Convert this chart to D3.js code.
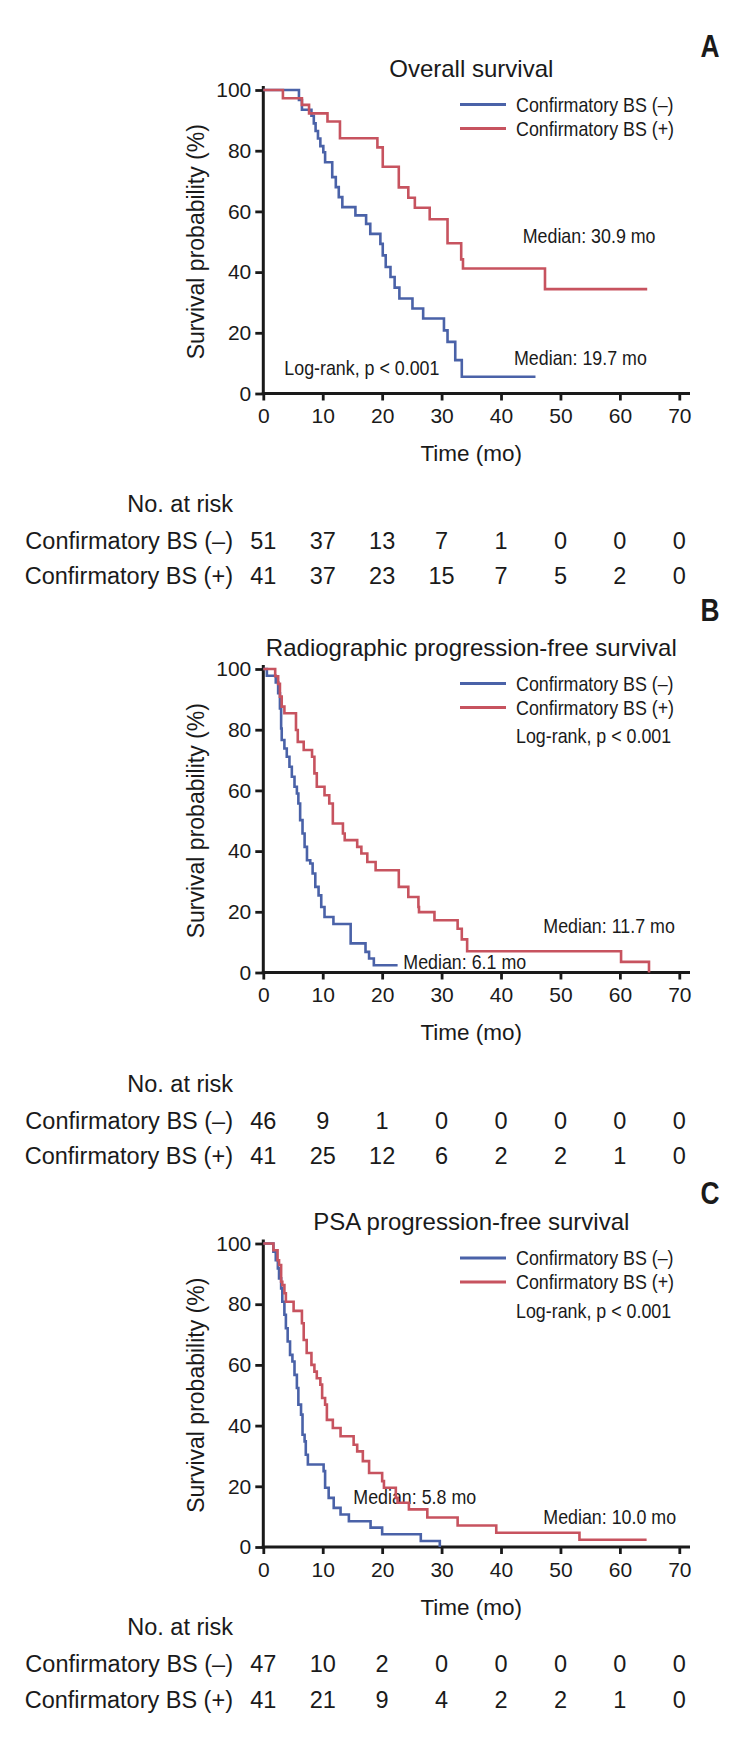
<!DOCTYPE html>
<html><head><meta charset="utf-8">
<script src="https://cdn.jsdelivr.net/npm/d3@7"></script>
<style>body{margin:0;background:#fff}</style>
</head><body>
<svg id="c" width="742" height="1740"></svg>
<script>
// ---------- data ----------
const xTicks = [0,10,20,30,40,50,60,70];
const yTicks = [0,20,40,60,80,100];
const panelLetters = ["A","B","C"];
const titles = ["Overall survival","Radiographic progression-free survival","PSA progression-free survival"];
const seriesNames = ["Confirmatory BS (–)","Confirmatory BS (+)"];
const logRankText = "Log-rank, p < 0.001";
const riskTimes = [0,10,20,30,40,50,60,70];

// Overall survival (time in months, survival %)
const osNeg = [[0,100],[6.0,96.7],[6.5,93.5],[8.1,91.5],[8.5,89.0],[8.8,86.5],[9.2,84.0],[9.6,81.5],[10.1,79.5],[10.4,76.2],[11.6,71.3],[12.2,68.0],[12.7,64.7],[13.3,61.4],[15.5,58.7],[17.3,55.9],[18.0,52.6],[19.7,49.3],[20.1,45.5],[20.6,41.7],[21.4,38.4],[22.1,34.9],[22.9,31.3],[25.1,28.0],[26.9,24.7],[30.4,20.8],[31.0,17.0],[32.3,11.0],[33.4,5.5],[45.8,5.5]];
const osPos = [[0,100],[3.3,97.3],[6.5,95.1],[7.7,92.3],[10.8,89.6],[12.9,84.1],[19.2,81.1],[20.1,74.7],[22.8,67.9],[24.4,64.5],[25.5,61.2],[28.0,57.4],[31.0,49.5],[33.3,44.2],[33.6,41.2],[47.4,34.4],[64.6,34.4]];
// Radiographic PFS
const rpfsNeg = [[0,100],[0.6,97.8],[2.1,95.6],[2.5,92.0],[2.8,87.0],[3.0,80.4],[3.1,76.6],[3.55,73.8],[3.95,71.1],[4.4,67.8],[4.8,64.5],[5.25,61.2],[5.65,59.0],[5.9,55.7],[6.2,50.2],[6.6,45.8],[6.95,41.4],[7.35,37.0],[7.9,35.9],[8.3,32.6],[8.75,28.2],[9.3,25.4],[9.75,21.6],[10.3,18.3],[11.8,16.0],[14.7,9.6],[17.2,6.8],[17.8,4.6],[18.6,2.4],[22.6,2.4]];
const rpfsPos = [[0,100],[2.0,97.6],[2.5,95.1],[2.8,90.9],[3.1,87.6],[3.55,85.4],[5.5,79.9],[5.8,76.0],[6.8,73.3],[8.2,71.1],[8.6,65.6],[9.0,61.2],[10.3,58.4],[11.1,55.7],[11.7,49.1],[13.4,45.8],[13.7,43.6],[15.8,41.4],[16.5,39.2],[17.5,36.4],[18.9,33.7],[22.8,28.2],[24.4,24.9],[26.1,21.6],[26.2,19.9],[28.8,17.2],[32.7,14.4],[33.4,10.9],[34.3,7.0],[60.2,3.5],[64.9,0]];
// PSA PFS
const psaNeg = [[0,100],[1.7,97.3],[2.1,94.5],[2.45,91.8],[2.65,88.5],[3.0,85.2],[3.2,80.8],[3.55,76.5],[3.8,72.1],[4.1,67.7],[4.5,63.3],[4.9,61.1],[5.25,56.7],[5.65,52.4],[5.9,46.9],[6.35,43.6],[6.6,37.0],[6.95,34.8],[7.15,30.4],[7.5,27.2],[10.15,25.0],[10.4,19.5],[11.0,16.2],[11.85,12.9],[13.0,10.7],[14.4,8.5],[18.05,6.4],[20.0,4.2],[26.5,2.0],[29.7,0]];
const psaPos = [[0,100],[1.7,97.8],[2.4,94.5],[2.65,92.9],[3.0,87.4],[3.2,86.3],[3.55,83.6],[3.8,80.8],[5.1,77.8],[6.5,73.7],[6.8,68.2],[7.3,63.9],[8.1,60.0],[8.6,57.8],[9.0,55.6],[9.6,53.5],[9.9,49.1],[10.4,46.9],[10.7,41.9],[11.7,39.2],[13.0,36.5],[15.2,33.7],[15.8,31.5],[16.75,28.3],[17.8,24.4],[20.0,21.7],[20.3,19.5],[22.3,16.2],[22.6,14.6],[24.5,12.4],[27.6,9.7],[32.7,7.1],[39.2,4.7],[53.2,2.4],[64.5,2.4]];

const osRiskNeg = [51,37,13,7,1,0,0,0];
const osRiskPos = [41,37,23,15,7,5,2,0];
const rpfsRiskNeg = [46,9,1,0,0,0,0,0];
const rpfsRiskPos = [41,25,12,6,2,2,1,0];
const psaRiskNeg = [47,10,2,0,0,0,0,0];
const psaRiskPos = [41,21,9,4,2,2,1,0];

const medianNeg = ["Median: 19.7 mo","Median: 6.1 mo","Median: 5.8 mo"];
const medianPos = ["Median: 30.9 mo","Median: 11.7 mo","Median: 10.0 mo"];

// ---------- layout ----------
const svg = d3.select("#c");
const colors = ["#4a62a8","#c7535f"];
const ink = "#1a1a1a";
const plotX0 = 263.3, plotX1 = 679.3, plotH = 303.5;
const panelTops = [90, 669, 1243.5];
const sans = "'Liberation Sans', Arial, sans-serif";
const condSize = 21, condScale = 0.85;

const panels = [
  {neg: osNeg, pos: osPos, rNeg: osRiskNeg, rPos: osRiskPos,
   medNeg:[514,275], medPos:[522.7,152.7], logRank:[284.3,285], letterY:-33, riskShift:30},
  {neg: rpfsNeg, pos: rpfsPos, rNeg: rpfsRiskNeg, rPos: rpfsRiskPos,
   medNeg:[403.3,300.3], medPos:[543.3,263.7], logRank:[516,73.5], letterY:-48, riskShift:31},
  {neg: psaNeg, pos: psaPos, rNeg: psaRiskNeg, rPos: psaRiskPos,
   medNeg:[353.3,260.7], medPos:[543.3,280], logRank:[516,74.4], letterY:-40, riskShift:0}
];

const x = d3.scaleLinear().domain([0,70]).range([plotX0, plotX1]);

function condText(g, px, py, txt) {
  return g.append("text").attr("transform",`translate(${px},${py}) scale(${condScale},1)`)
    .attr("font-family",sans).attr("font-size",condSize).attr("fill",ink).text(txt);
}

panels.forEach((p, i) => {
  const top = panelTops[i], bottom = top + plotH;
  const y = d3.scaleLinear().domain([0,100]).range([bottom, top]);
  const g = svg.append("g");

  // title
  g.append("text").attr("x",(plotX0+plotX1)/2).attr("y",top-13.5)
    .attr("text-anchor","middle").attr("font-family",sans).attr("font-size",24)
    .attr("fill",ink).text(titles[i]);
  // panel letter
  g.append("text").attr("transform",`translate(710,${top+p.letterY}) scale(0.85,1)`)
    .attr("text-anchor","middle").attr("font-family",sans).attr("font-weight","bold")
    .attr("font-size",31).attr("fill",ink).text(panelLetters[i]);

  // axes
  const ya = d3.axisLeft(y).tickValues(yTicks).tickSize(8).tickPadding(4).tickSizeOuter(0);
  const xa = d3.axisBottom(x).tickValues(xTicks).tickSize(7).tickPadding(8).tickSizeOuter(0);
  const yg = g.append("g").attr("transform",`translate(${plotX0},0)`).call(ya);
  const xg = g.append("g").attr("transform",`translate(0,${bottom})`).call(xa);
  [yg,xg].forEach(a => {
    a.select(".domain").remove();
    a.selectAll(".tick line").attr("stroke",ink).attr("stroke-width",2.8);
    a.selectAll(".tick text").attr("font-family",sans).attr("font-size",21).attr("fill",ink);
  });
  g.append("line").attr("x1",plotX0).attr("x2",plotX0).attr("y1",top-4).attr("y2",bottom+1.4)
    .attr("stroke",ink).attr("stroke-width",3);
  g.append("line").attr("x1",plotX0-1.5).attr("x2",690).attr("y1",bottom).attr("y2",bottom)
    .attr("stroke",ink).attr("stroke-width",3);

  // y label
  g.append("text").attr("transform",`translate(204,${(top+bottom)/2}) rotate(-90)`)
    .attr("text-anchor","middle").attr("font-family",sans).attr("font-size",23)
    .attr("fill",ink).text("Survival probability (%)");

  // annotations
  condText(g, p.medNeg[0], top+p.medNeg[1], medianNeg[i]);
  condText(g, p.medPos[0], top+p.medPos[1], medianPos[i]);
  condText(g, p.logRank[0], top+p.logRank[1], logRankText);

  // legend
  [0,1].forEach(k => {
    const ly = top + 14.5 + k*24;
    g.append("line").attr("x1",460).attr("x2",506).attr("y1",ly).attr("y2",ly)
      .attr("stroke",colors[k]).attr("stroke-width",3);
    condText(g, 516, ly+7.3, seriesNames[k]);
  });

  // curves
  const line = d3.line().x(d=>x(d[0])).y(d=>y(d[1])).curve(d3.curveStepAfter);
  [p.neg, p.pos].forEach((s,k) => {
    g.append("path").attr("d",line(s)).attr("fill","none").attr("stroke",colors[k])
      .attr("stroke-width",2.6).attr("stroke-linejoin","miter").attr("stroke-linecap","butt");
  });

  // risk table
  const tf = 23.5;
  g.append("text").attr("x",(plotX0+plotX1)/2).attr("y",bottom+67.5).attr("text-anchor","middle")
    .attr("font-family",sans).attr("font-size",22.5).attr("fill",ink).text("Time (mo)");
  g.append("text").attr("x",233).attr("y",bottom+88+p.riskShift).attr("text-anchor","end")
    .attr("font-family",sans).attr("font-size",tf).attr("fill",ink).text("No. at risk");
  [p.rNeg, p.rPos].forEach((r,k) => {
    const ry = bottom + 125 + p.riskShift + k*35.5;
    g.append("text").attr("x",233).attr("y",ry).attr("text-anchor","end")
      .attr("font-family",sans).attr("font-size",tf).attr("fill",ink).text(seriesNames[k]);
    g.selectAll(null).data(r).enter().append("text")
      .attr("x",(d,j)=>x(riskTimes[j])).attr("y",ry).attr("text-anchor","middle")
      .attr("font-family",sans).attr("font-size",tf).attr("fill",ink).text(d=>d);
  });
});
</script>
</body></html>
